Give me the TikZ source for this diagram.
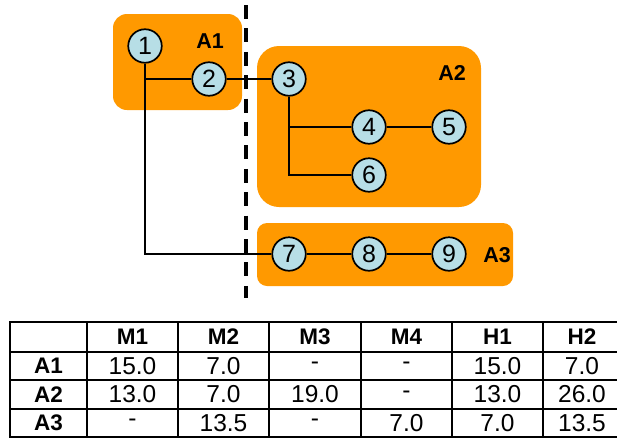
\documentclass[tikz,border=0pt]{standalone}
\usepackage{fontspec}
\setmainfont{Liberation Sans}
\definecolor{areaorange}{RGB}{255,153,0}
\definecolor{nodeblue}{RGB}{183,222,230}

\begin{document}
\begin{tikzpicture}[x=1pt,y=-1pt,
  area/.style={fill=areaorange, draw=none},
  site/.style={circle, draw, line width=1.7pt, fill=nodeblue, minimum size=33.5pt,
    inner sep=0pt, font=\fontsize{25}{25}\selectfont},
  link/.style={line width=1.6pt},
  arealabel/.style={font=\fontsize{21.5}{21.5}\selectfont\bfseries, inner sep=0pt},
  divider/.style={line width=3.6pt, dash pattern=on 14pt off 9.4pt},
  cell/.style={font=\fontsize{24.5}{24.5}\selectfont, inner sep=0pt},
  headcell/.style={font=\fontsize{22.5}{22.5}\selectfont\bfseries, inner sep=0pt},
  gridline/.style={line width=2pt}]
\useasboundingbox (0,0) rectangle (617,439);

% area backgrounds
\fill[area, rounded corners=14pt] (113,14) rectangle (242,110);
\fill[area, rounded corners=22pt] (257,46) rectangle (481,207);
\fill[area, rounded corners=10pt] (257,223) rectangle (513,286);

\node[arealabel] (labA1) at (210,41) {A1};
\node[arealabel] (labA2) at (452,73) {A2};
\node[arealabel] (labA3) at (497,255) {A3};

% sites
\node[site] (n1) at (145,46) {1};
\node[site] (n2) at (209,79) {2};
\node[site] (n3) at (289,79) {3};
\node[site] (n4) at (369,127) {4};
\node[site] (n5) at (449,127) {5};
\node[site] (n6) at (369,175) {6};
\node[site] (n7) at (289,254) {7};
\node[site] (n8) at (369,254) {8};
\node[site] (n9) at (449,254) {9};

% links
\draw[link] (n1) |- (n7);
\draw[link] (n1 |- n2) -- (n2);
\draw[link] (n2) -- (n3);
\draw[link] (n3) |- (n6);
\draw[link] (n3 |- n4) -- (n4);
\draw[link] (n4) -- (n5);
\draw[link] (n7) -- (n8) -- (n9);

% divider
\coordinate (divtop) at (246,5);
\coordinate (divbot) at (246,298);
\draw[divider] (divtop) -- (divbot);

% table grid
\draw[gridline] (10,322) rectangle (621,437);
\foreach \x in {87,178,269,361,452,543}
  \draw[gridline] (\x,322) -- (\x,437);
\foreach \y in {352,380,409}
  \draw[gridline] (10,\y) -- (621,\y);

% table header
\foreach \x/\t in {132.5/M1, 223.5/M2, 315/M3, 406.5/M4, 497.5/H1, 582/H2}
  \node[headcell] (h-\t) at (\x,337) {\t};

% row labels
\node[headcell] (r-A1) at (48.5,366) {A1};
\node[headcell] (r-A2) at (48.5,394.5) {A2};
\node[headcell] (r-A3) at (48.5,423) {A3};

% table values
\foreach \x/\v [count=\c] in {132.5/15.0, 223.5/7.0, 315/-, 406.5/-, 497.5/15.0, 582/7.0}
  \node[cell] (a1-\c) at (\x,366) {\v};
\foreach \x/\v [count=\c] in {132.5/13.0, 223.5/7.0, 315/19.0, 406.5/-, 497.5/13.0, 582/26.0}
  \node[cell] (a2-\c) at (\x,394.5) {\v};
\foreach \x/\v [count=\c] in {132.5/-, 223.5/13.5, 315/-, 406.5/7.0, 497.5/7.0, 582/13.5}
  \node[cell] (a3-\c) at (\x,423) {\v};
\end{tikzpicture}
\end{document}
